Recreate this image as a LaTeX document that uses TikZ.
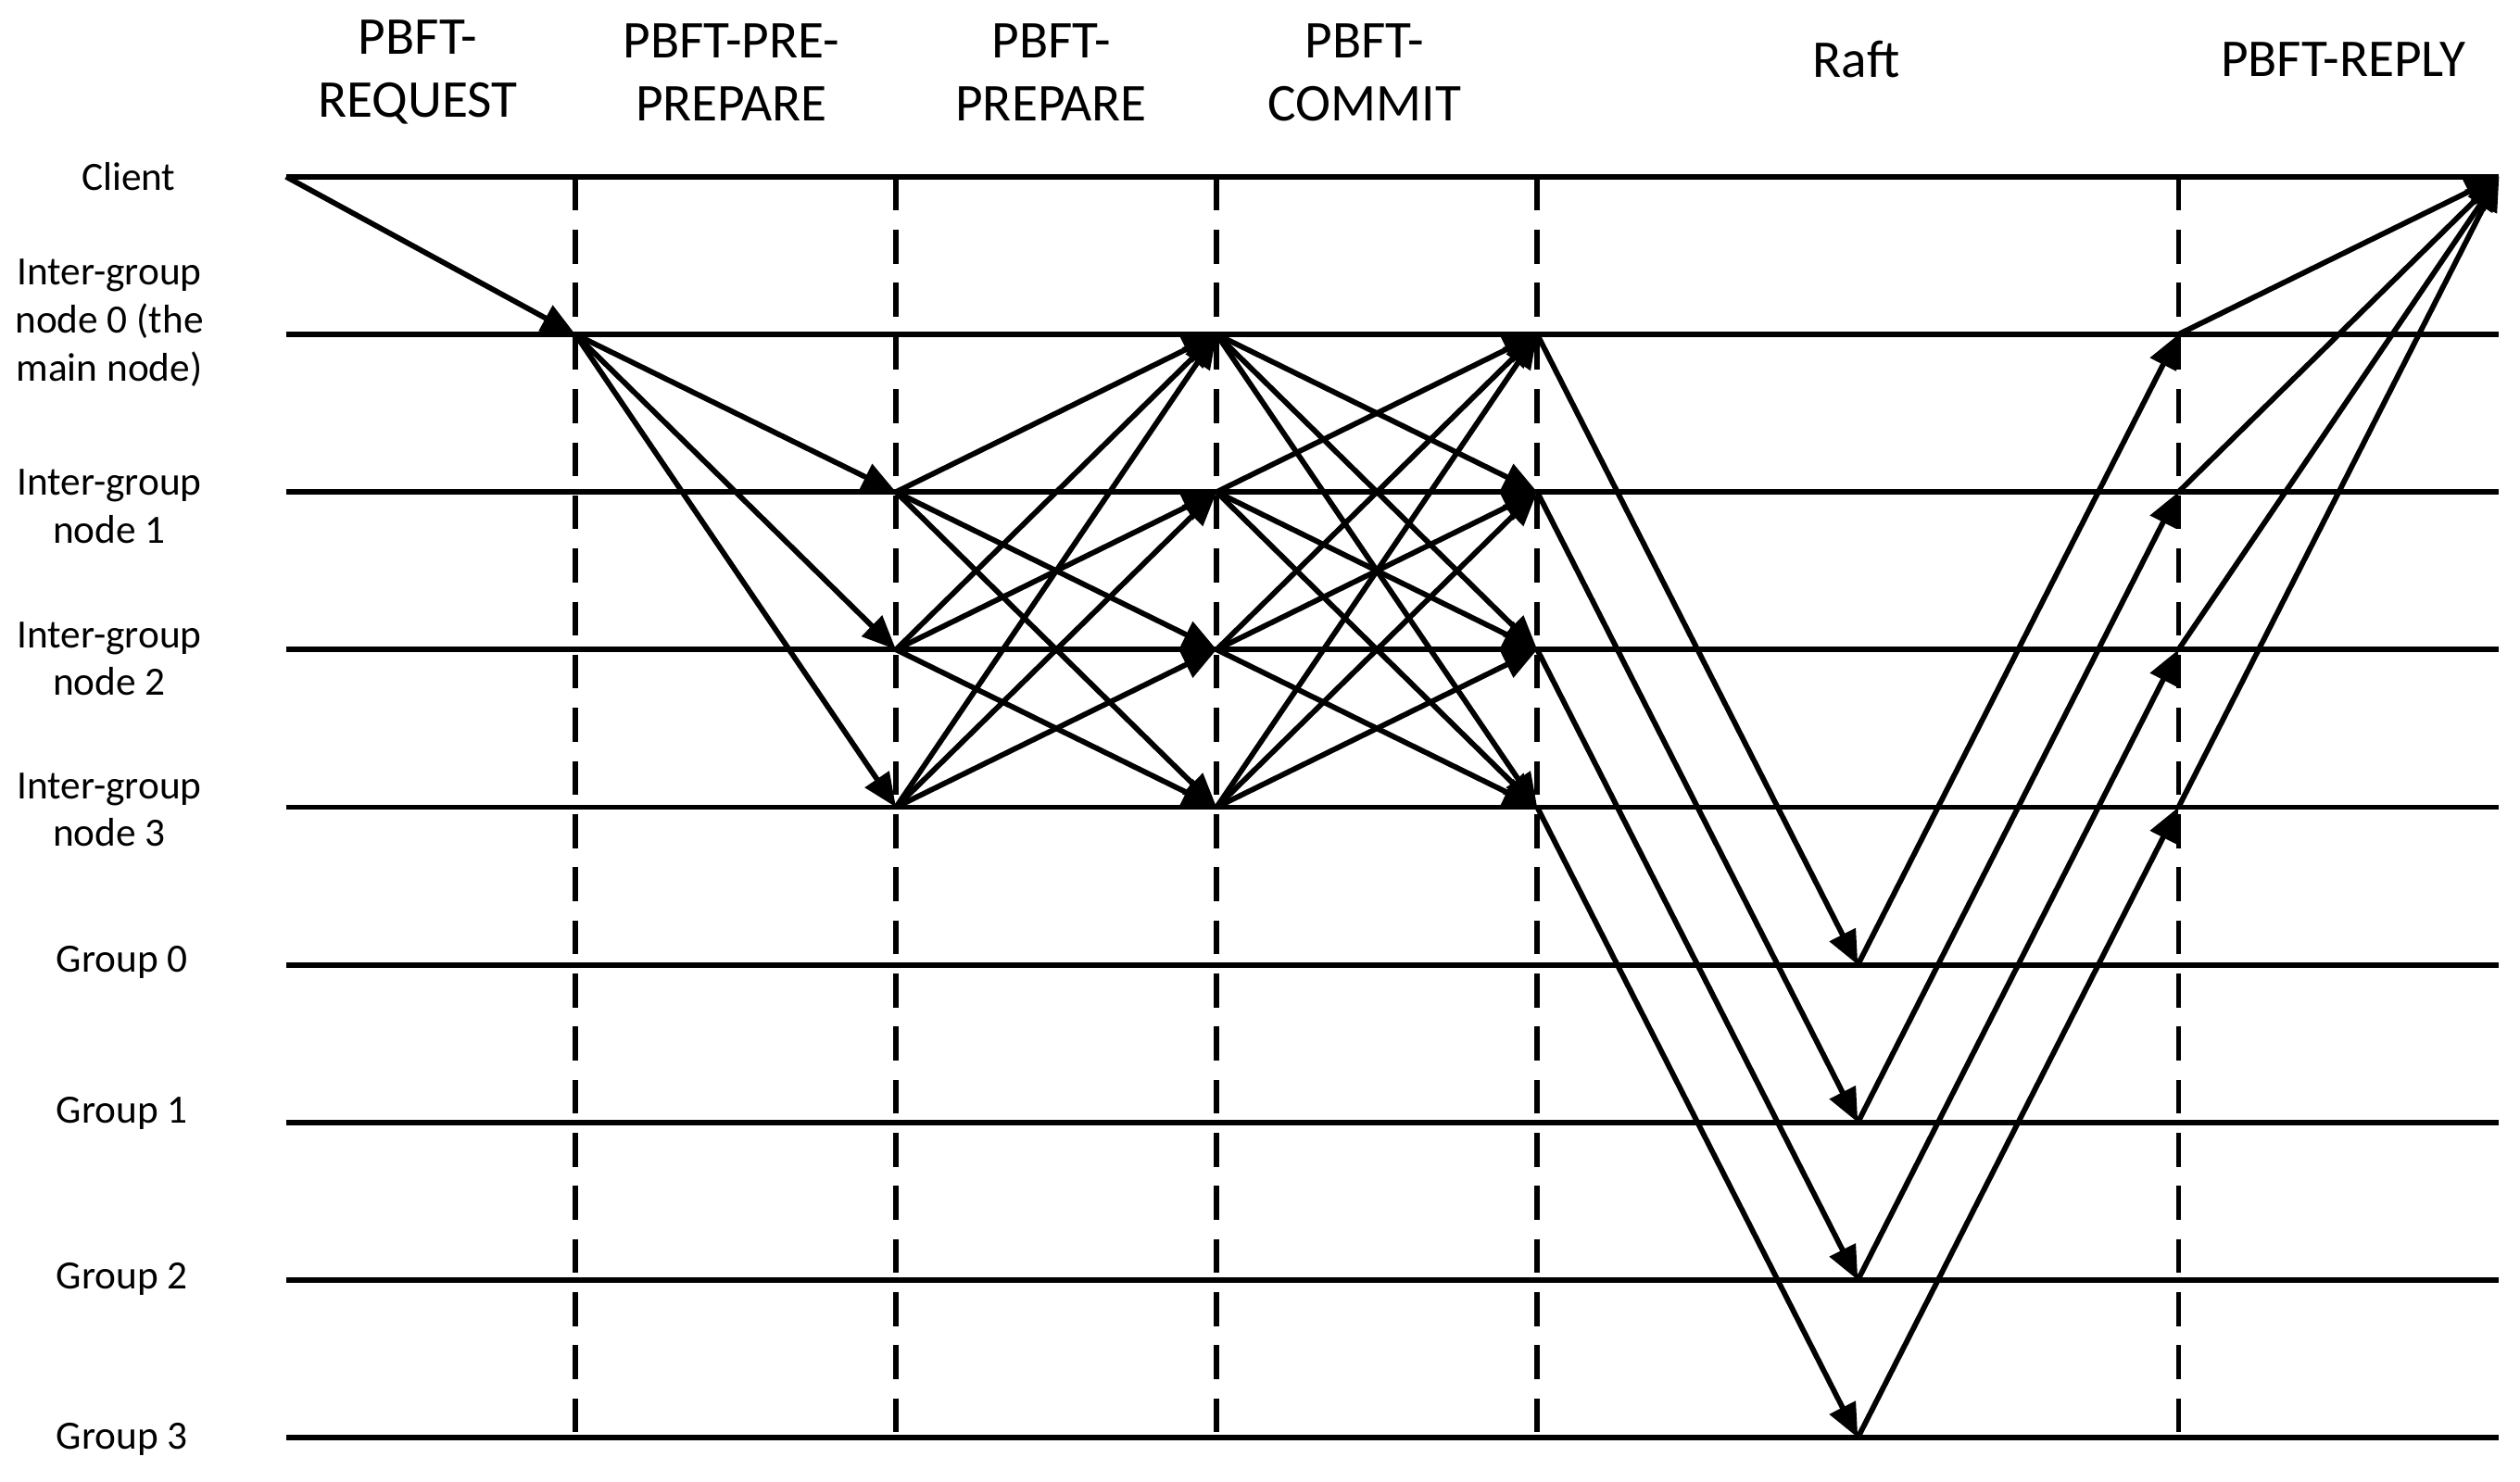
\documentclass[tikz,border=0pt]{standalone}
\usepackage{fontspec}
\setmainfont{Carlito}
\usetikzlibrary{arrows.meta,positioning,calc}

\begin{document}
\begin{tikzpicture}[x=0.01cm,y=-0.01cm,
  lane/.style={line width=0.95pt},
  phaseline/.style={line width=0.9pt,dash pattern=on 6pt off 3.4pt},
  msg/.style={line width=0.95pt,-{Triangle[length=6pt,width=5pt]}},
  phase/.style={font=\fontsize{9.4}{11.2}\selectfont,align=center,inner sep=0pt},
  role/.style={font=\fontsize{7.1}{8.5}\selectfont,align=center,inner sep=0pt}]
\useasboundingbox (0,0) rectangle (1568,922);
% lanes (one per participant)
\foreach \r/\y in {cl/110,n0/208.1,n1/306.2,n2/404.3,n3/502.4,g0/600.5,g1/698.6,g2/796.7,g3/894.8}{
  \coordinate (\r-s) at (178,\y);
  \foreach \k in {0,...,6} \coordinate (\r-\k) at ({358+199.5*\k},\y);
  \draw[lane] (\r-s) -- (\r-6);
}
% phase borders
\foreach \k in {0,1,2,3,5} \draw[phaseline] (cl-\k) -- (g3-\k);
% participants
\node[role] (lbl-cl) at (80,110) {Client};
\node[role] (lbl-n0) at (68,201) {Inter-group\\node 0 (the\\main node)};
\node[role] (lbl-n1) at (68,315) {Inter-group\\node 1};
\node[role] (lbl-n2) at (68,410) {Inter-group\\node 2};
\node[role] (lbl-n3) at (68,504) {Inter-group\\node 3};
\foreach \i/\y in {0/599,1/693,2/796,3/896}
  \node[role] (lbl-g\i) at (76,\y) {Group \i};
% phases
\node[phase] (ph-req) at (260,45) {PBFT-\\REQUEST};
\node[phase] (ph-pre) at (455,45) {PBFT-PRE-\\PREPARE};
\node[phase] (ph-prep) at (654,45) {PBFT-\\PREPARE};
\node[phase] (ph-com) at (849,45) {PBFT-\\COMMIT};
\node[phase] (ph-raft) at (1155,37) {Raft};
\node[phase] (ph-rep) at (1458,37) {PBFT-REPLY};
% request and pre-prepare
\draw[msg] (cl-s) -- (n0-0);
\foreach \t in {1,2,3} \draw[msg] (n0-0) -- (n\t-1);
% prepare and commit
\foreach \s in {1,2,3} \foreach \t in {0,...,3}
  {\ifnum\s=\t\else\draw[msg] (n\s-1) -- (n\t-2);\fi}
\foreach \s in {0,...,3} \foreach \t in {0,...,3}
  {\ifnum\s=\t\else\draw[msg] (n\s-2) -- (n\t-3);\fi}
% raft inside each group, then reply
\foreach \i in {0,...,3}{
  \draw[msg] (n\i-3) -- (g\i-4);
  \draw[msg] (g\i-4) -- (n\i-5);
  \draw[msg] (n\i-5) -- (cl-6);
}
\end{tikzpicture}
\end{document}
